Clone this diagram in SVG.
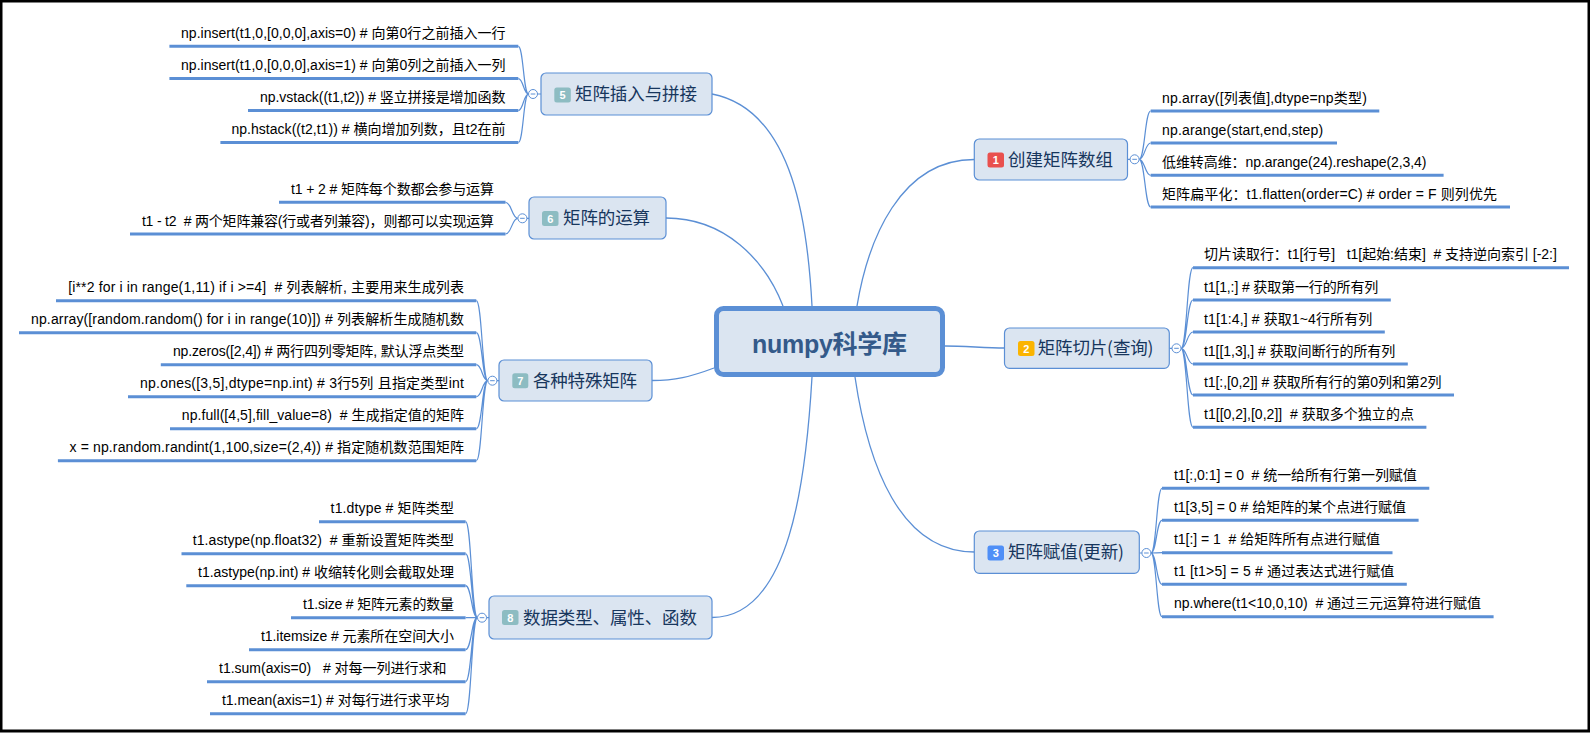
<svg xmlns="http://www.w3.org/2000/svg" width="1590" height="733" viewBox="0 0 1590 733">
<style>
.leaf{font-family:"Liberation Sans","Noto Sans CJK SC",sans-serif;font-size:14px;fill:#000;white-space:pre}
.ul{stroke:#5b8fd5;stroke-width:3}
.br{fill:none;stroke:#5b8fd5;stroke-width:1.2}
.mc{fill:none;stroke:#5b8fd5;stroke-width:1.3}
.box{fill:#dbe5f1;stroke:#5b8fd5;stroke-width:1.2}
.lbl{font-family:"Noto Sans CJK SC",sans-serif;font-size:17.5px;fill:#17365d}
.bn{font-family:"Liberation Sans",sans-serif;font-weight:bold;font-size:11px;fill:#fff;text-anchor:middle}
.tog{fill:#fff;stroke:#5b8fd5;stroke-width:1}
.tm{stroke:#5b8fd5;stroke-width:1}
.r{text-anchor:end}
</style>
<rect x="0" y="0" width="1590" height="733" fill="#fff"/>
<rect x="1" y="1" width="1588" height="730" fill="none" stroke="#000" stroke-width="3"/>

<g id="connectors">
<path class="mc" d="M857,306 C868,240 900,159.5 974.3,159.5"/>
<path class="mc" d="M945,346 C965,346 985,348 1004.5,348"/>
<path class="mc" d="M855,377 C868,465 900,552 974.3,552"/>
<path class="mc" d="M812,306 C808,230 795,110 712,94"/>
<path class="mc" d="M783,306 C765,260 725,218 666,218"/>
<path class="mc" d="M714,368 C690,377 675,380.5 652,380.5"/>
<path class="mc" d="M812,377 C806,480 790,617.5 712,617.5"/>
<!-- short stubs -->
<path class="br" d="M1127.5,159.3H1130.1 M1169.3,348.3H1172 M1139.3,553H1141.9 M537.5,94H541 M526.9,218.3H529 M496.9,380.7H499 M486.5,617.7H489"/>
<!-- node1 brackets -->
<path class="br" d="M1139.1,159.3 C1144.9,159.3 1144.9,111 1150.7,111 M1139.1,159.3 C1144.9,159.3 1144.9,143 1150.7,143 M1139.1,159.3 C1144.9,159.3 1144.9,175.3 1150.7,175.3 M1139.1,159.3 C1144.9,159.3 1144.9,207 1150.7,207"/>
<!-- node2 brackets -->
<path class="br" d="M1181,348.3 C1187,348.3 1187,267.7 1193,267.7 M1181,348.3 C1187,348.3 1187,300 1193,300 M1181,348.3 C1187,348.3 1187,332 1193,332 M1181,348.3 C1187,348.3 1187,364 1193,364 M1181,348.3 C1187,348.3 1187,395 1193,395 M1181,348.3 C1187,348.3 1187,427.3 1193,427.3"/>
<!-- node3 brackets -->
<path class="br" d="M1150.9,553 C1156.5,553 1156.5,488.3 1162,488.3 M1150.9,553 C1156.5,553 1156.5,520.3 1162,520.3 M1150.9,553 C1156.5,553 1156.5,552.7 1162,552.7 M1150.9,553 C1156.5,553 1156.5,584.3 1162,584.3 M1150.9,553 C1156.5,553 1156.5,616.7 1162,616.7"/>
<!-- node5 brackets -->
<path class="br" d="M528.5,94 C523.4,94 523.4,46.3 518.3,46.3 M528.5,94 C523.4,94 523.4,78.6 518.3,78.6 M528.5,94 C523.4,94 523.4,110.5 518.3,110.5 M528.5,94 C523.4,94 523.4,142.5 518.3,142.5"/>
<!-- node6 brackets -->
<path class="br" d="M517.9,218.3 C511.7,218.3 511.7,202.3 505.5,202.3 M517.9,218.3 C511.7,218.3 511.7,234 505.5,234"/>
<!-- node7 brackets -->
<path class="br" d="M487.9,380.7 C482.1,380.7 482.1,300.7 476.3,300.7 M487.9,380.7 C482.1,380.7 482.1,332.7 476.3,332.7 M487.9,380.7 C482.1,380.7 482.1,364.7 476.3,364.7 M487.9,380.7 C482.1,380.7 482.1,396.7 476.3,396.7 M487.9,380.7 C482.1,380.7 482.1,428.7 476.3,428.7 M487.9,380.7 C482.1,380.7 482.1,460.7 476.3,460.7"/>
<!-- node8 brackets -->
<path class="br" d="M477.5,617.7 C471.5,617.7 471.5,521.7 465.6,521.7 M477.5,617.7 C471.5,617.7 471.5,553.7 465.6,553.7 M477.5,617.7 C471.5,617.7 471.5,585.7 465.6,585.7 M477.5,617.7 C471.5,617.7 471.5,617.7 465.6,617.7 M477.5,617.7 C471.5,617.7 471.5,649.7 465.6,649.7 M477.5,617.7 C471.5,617.7 471.5,681.7 465.6,681.7 M477.5,617.7 C471.5,617.7 471.5,713.7 465.6,713.7"/>
</g>

<g id="root">
<rect x="716.5" y="308.5" width="226" height="66" rx="7" fill="#dbe5f1" stroke="#5b8fd5" stroke-width="5"/>
<text x="829.5" y="353" text-anchor="middle" font-family="Liberation Sans,Noto Sans CJK SC,sans-serif" font-weight="bold" font-size="25" fill="#345a8a" textLength="155">numpy科学库</text>
</g>

<g id="n1">
<rect class="box" x="974.3" y="139" width="153.2" height="41" rx="5"/>
<rect x="987.5" y="152.5" width="16.5" height="15" rx="2.5" fill="#e9504e"/>
<text class="bn" x="995.75" y="164">1</text>
<text class="lbl" x="1008" y="165.8" textLength="105">创建矩阵数组</text>
<circle class="tog" cx="1134.6" cy="159.3" r="4.5"/><path class="tm" d="M1132.3,159.3H1136.9"/>
</g>
<g id="n1-1"><line class="ul" x1="1150.7" y1="111" x2="1379.3" y2="111"/><text class="leaf" x="1162" y="102.7" textLength="204.8">np.array([列表值],dtype=np类型)</text></g>
<g id="n1-2"><line class="ul" x1="1150.7" y1="143" x2="1337" y2="143"/><text class="leaf" x="1162" y="134.7" textLength="161.2">np.arange(start,end,step)</text></g>
<g id="n1-3"><line class="ul" x1="1150.7" y1="175.3" x2="1443.6" y2="175.3"/><text class="leaf" x="1162" y="166.9" textLength="264.4">低维转高维：np.arange(24).reshape(2,3,4)</text></g>
<g id="n1-4"><line class="ul" x1="1150.7" y1="207" x2="1510" y2="207"/><text class="leaf" x="1162" y="198.6" textLength="335">矩阵扁平化：t1.flatten(order=C) # order = F 则列优先</text></g>

<g id="n2">
<rect class="box" x="1004.5" y="328" width="164.8" height="40.3" rx="5"/>
<rect x="1018" y="341" width="16.5" height="15" rx="2.5" fill="#fbb400"/>
<text class="bn" x="1026.25" y="352.5">2</text>
<text class="lbl" x="1037.7" y="354.4" textLength="115.8">矩阵切片(查询)</text>
<circle class="tog" cx="1176.5" cy="348.3" r="4.5"/><path class="tm" d="M1174.2,348.3H1178.8"/>
</g>
<g id="n2-1"><line class="ul" x1="1193" y1="267.7" x2="1569" y2="267.7"/><text class="leaf" x="1204" y="259.2" textLength="352.8">切片读取行：t1[行号]   t1[起始:结束]  # 支持逆向索引 [-2:]</text></g>
<g id="n2-2"><line class="ul" x1="1193" y1="300" x2="1390.8" y2="300"/><text class="leaf" x="1204" y="291.5" textLength="174.3">t1[1,:] # 获取第一行的所有列</text></g>
<g id="n2-3"><line class="ul" x1="1193" y1="332" x2="1384.8" y2="332"/><text class="leaf" x="1204" y="323.5" textLength="168.3">t1[1:4,] # 获取1~4行所有列</text></g>
<g id="n2-4"><line class="ul" x1="1193" y1="364" x2="1407.8" y2="364"/><text class="leaf" x="1204" y="355.5" textLength="191.3">t1[[1,3],] # 获取间断行的所有列</text></g>
<g id="n2-5"><line class="ul" x1="1193" y1="395" x2="1454" y2="395"/><text class="leaf" x="1204" y="386.5" textLength="237.5">t1[:,[0,2]] # 获取所有行的第0列和第2列</text></g>
<g id="n2-6"><line class="ul" x1="1193" y1="427.3" x2="1426.4" y2="427.3"/><text class="leaf" x="1204" y="418.8" textLength="209.9">t1[[0,2],[0,2]]  # 获取多个独立的点</text></g>

<g id="n3">
<rect class="box" x="974.3" y="531" width="165" height="42.3" rx="5"/>
<rect x="987.5" y="545.5" width="16.5" height="15" rx="2.5" fill="#4f8ff7"/>
<text class="bn" x="995.75" y="557">3</text>
<text class="lbl" x="1008" y="558.3" textLength="116">矩阵赋值(更新)</text>
<circle class="tog" cx="1146.4" cy="553" r="4.5"/><path class="tm" d="M1144.1,553H1148.7"/>
</g>
<g id="n3-1"><line class="ul" x1="1162" y1="488.3" x2="1429.3" y2="488.3"/><text class="leaf" x="1173.9" y="479.8" textLength="242.9">t1[:,0:1] = 0  # 统一给所有行第一列赋值</text></g>
<g id="n3-2"><line class="ul" x1="1162" y1="520.3" x2="1418.6" y2="520.3"/><text class="leaf" x="1173.9" y="511.8" textLength="232.2">t1[3,5] = 0 # 给矩阵的某个点进行赋值</text></g>
<g id="n3-3"><line class="ul" x1="1162" y1="552.7" x2="1392.5" y2="552.7"/><text class="leaf" x="1173.9" y="544.2" textLength="206.1">t1[:] = 1  # 给矩阵所有点进行赋值</text></g>
<g id="n3-4"><line class="ul" x1="1162" y1="584.3" x2="1406.8" y2="584.3"/><text class="leaf" x="1173.9" y="575.8" textLength="220.4">t1 [t1&gt;5] = 5 # 通过表达式进行赋值</text></g>
<g id="n3-5"><line class="ul" x1="1162" y1="616.7" x2="1493.6" y2="616.7"/><text class="leaf" x="1173.9" y="608.2" textLength="307.2">np.where(t1&lt;10,0,10)  # 通过三元运算符进行赋值</text></g>

<g id="n5">
<rect class="box" x="541" y="73" width="171" height="42" rx="5"/>
<rect x="554.3" y="87.5" width="16.5" height="15" rx="2.5" fill="#8dbcc2"/>
<text class="bn" x="562.55" y="99">5</text>
<text class="lbl" x="575" y="100.3" textLength="122">矩阵插入与拼接</text>
<circle class="tog" cx="533" cy="94" r="4.5"/><path class="tm" d="M530.7,94H535.3"/>
</g>
<g id="n5-1"><line class="ul" x1="169.4" y1="46.3" x2="518.3" y2="46.3"/><text class="leaf r" x="505.5" y="37.8" textLength="324.5">np.insert(t1,0,[0,0,0],axis=0) # 向第0行之前插入一行</text></g>
<g id="n5-2"><line class="ul" x1="169.4" y1="78.6" x2="518.3" y2="78.6"/><text class="leaf r" x="505.5" y="70.1" textLength="324.5">np.insert(t1,0,[0,0,0],axis=1) # 向第0列之前插入一列</text></g>
<g id="n5-3"><line class="ul" x1="248" y1="110.5" x2="518.3" y2="110.5"/><text class="leaf r" x="505.5" y="102" textLength="245.5">np.vstack((t1,t2)) # 竖立拼接是增加函数</text></g>
<g id="n5-4"><line class="ul" x1="220.4" y1="142.5" x2="518.3" y2="142.5"/><text class="leaf r" x="505.5" y="134" textLength="274.1">np.hstack((t2,t1)) # 横向增加列数，且t2在前</text></g>

<g id="n6">
<rect class="box" x="529" y="197" width="137" height="42" rx="5"/>
<rect x="542" y="211" width="16.5" height="15" rx="2.5" fill="#8dbcc2"/>
<text class="bn" x="550.25" y="222.5">6</text>
<text class="lbl" x="563" y="224.3" textLength="87">矩阵的运算</text>
<circle class="tog" cx="522.4" cy="218.3" r="4.5"/><path class="tm" d="M520.1,218.3H524.7"/>
</g>
<g id="n6-1"><line class="ul" x1="279" y1="202.3" x2="505.5" y2="202.3"/><text class="leaf r" x="494" y="193.8" textLength="203">t1 + 2 # 矩阵每个数都会参与运算</text></g>
<g id="n6-2"><line class="ul" x1="130" y1="234" x2="505.5" y2="234"/><text class="leaf r" x="494" y="225.5" textLength="352.1">t1 - t2  # 两个矩阵兼容(行或者列兼容)，则都可以实现运算</text></g>

<g id="n7">
<rect class="box" x="499" y="360" width="153" height="41" rx="5"/>
<rect x="512.3" y="373.3" width="16" height="15" rx="2.5" fill="#8dbcc2"/>
<text class="bn" x="520.3" y="384.8">7</text>
<text class="lbl" x="533" y="386.6" textLength="104">各种特殊矩阵</text>
<circle class="tog" cx="492.4" cy="380.7" r="4.5"/><path class="tm" d="M490.1,380.7H494.7"/>
</g>
<g id="n7-1"><line class="ul" x1="56" y1="300.7" x2="476.3" y2="300.7"/><text class="leaf r" x="464" y="292.2" textLength="395.8">[i**2 for i in range(1,11) if i &gt;=4]  # 列表解析, 主要用来生成列表</text></g>
<g id="n7-2"><line class="ul" x1="19" y1="332.7" x2="476.3" y2="332.7"/><text class="leaf r" x="464" y="324.2" textLength="433">np.array([random.random() for i in range(10)]) # 列表解析生成随机数</text></g>
<g id="n7-3"><line class="ul" x1="160.8" y1="364.7" x2="476.3" y2="364.7"/><text class="leaf r" x="464" y="356.2" textLength="291.1">np.zeros([2,4]) # 两行四列零矩阵, 默认浮点类型</text></g>
<g id="n7-4"><line class="ul" x1="128" y1="396.7" x2="476.3" y2="396.7"/><text class="leaf r" x="464" y="388.2" textLength="324">np.ones([3,5],dtype=np.int) # 3行5列 且指定类型int</text></g>
<g id="n7-5"><line class="ul" x1="170" y1="428.7" x2="476.3" y2="428.7"/><text class="leaf r" x="464" y="420.2" textLength="282.2">np.full([4,5],fill_value=8)  # 生成指定值的矩阵</text></g>
<g id="n7-6"><line class="ul" x1="57.9" y1="460.7" x2="476.3" y2="460.7"/><text class="leaf r" x="464" y="452.2" textLength="394.4">x = np.random.randint(1,100,size=(2,4)) # 指定随机数范围矩阵</text></g>

<g id="n8">
<rect class="box" x="489" y="596" width="223" height="43" rx="5"/>
<rect x="502" y="610" width="16.5" height="15" rx="2.5" fill="#8dbcc2"/>
<text class="bn" x="510.25" y="621.5">8</text>
<text class="lbl" x="523" y="623.6" textLength="174">数据类型、属性、函数</text>
<circle class="tog" cx="482" cy="617.7" r="4.5"/><path class="tm" d="M479.7,617.7H484.3"/>
</g>
<g id="n8-1"><line class="ul" x1="319" y1="521.7" x2="465.6" y2="521.7"/><text class="leaf r" x="454" y="513.2" textLength="123.4">t1.dtype # 矩阵类型</text></g>
<g id="n8-2"><line class="ul" x1="181.5" y1="553.7" x2="465.6" y2="553.7"/><text class="leaf r" x="454" y="545.2" textLength="261.2">t1.astype(np.float32)  # 重新设置矩阵类型</text></g>
<g id="n8-3"><line class="ul" x1="186.3" y1="585.7" x2="465.6" y2="585.7"/><text class="leaf r" x="454" y="577.2" textLength="256">t1.astype(np.int) # 收缩转化则会截取处理</text></g>
<g id="n8-4"><line class="ul" x1="291" y1="617.7" x2="465.6" y2="617.7"/><text class="leaf r" x="454" y="609.2" textLength="151">t1.size # 矩阵元素的数量</text></g>
<g id="n8-5"><line class="ul" x1="249" y1="649.7" x2="465.6" y2="649.7"/><text class="leaf r" x="454" y="641.2" textLength="193">t1.itemsize # 元素所在空间大小</text></g>
<g id="n8-6"><line class="ul" x1="207" y1="681.7" x2="465.6" y2="681.7"/><text class="leaf r" x="446.6" y="673.2" textLength="227.6">t1.sum(axis=0)   # 对每一列进行求和</text></g>
<g id="n8-7"><line class="ul" x1="210" y1="713.7" x2="465.6" y2="713.7"/><text class="leaf r" x="449.4" y="705.2" textLength="227.4">t1.mean(axis=1) # 对每行进行求平均</text></g>
</svg>
